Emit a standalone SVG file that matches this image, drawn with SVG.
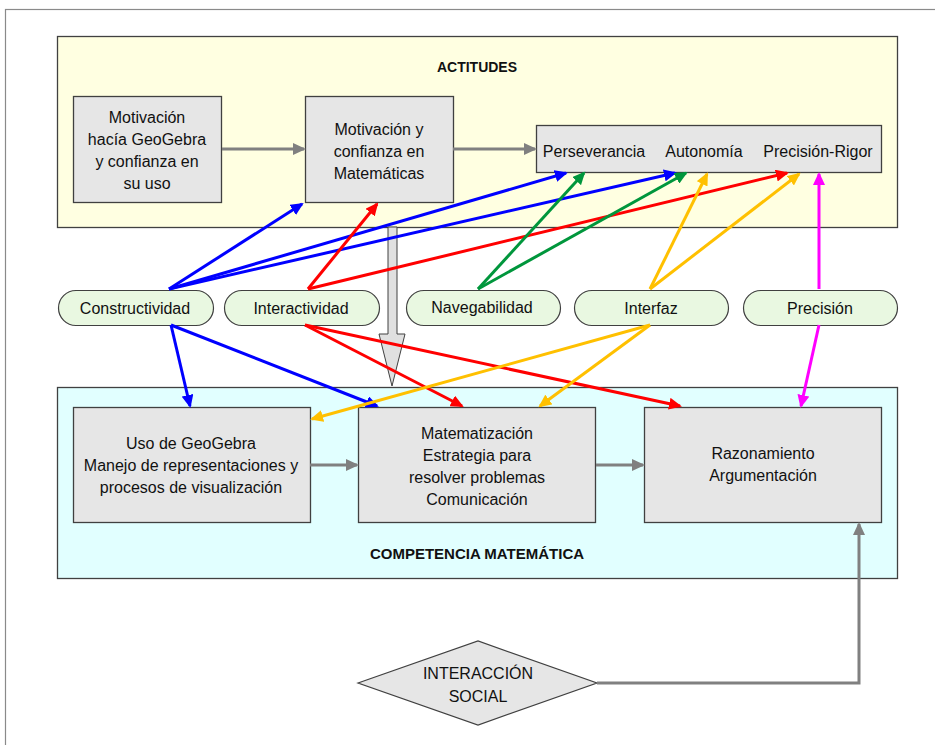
<svg xmlns="http://www.w3.org/2000/svg" width="935" height="745" viewBox="0 0 935 745">
<style>
text{font-family:"Liberation Sans",Arial,sans-serif;font-size:16px;fill:#111;text-anchor:middle;dominant-baseline:central}
.h{font-weight:bold;font-size:14px}
.h2{font-weight:bold;font-size:15px}
.box{fill:#e6e6e6;stroke:#404040;stroke-width:1.3}
.pill{fill:#e9f8e1;stroke:#404040;stroke-width:1.2}
.c{fill:none;stroke-width:3}
.b{stroke:#0000ff}.r{stroke:#ff0000}.g{stroke:#00963c}.y{stroke:#ffc000}.m{stroke:#ff00ff}.k{stroke:#808080}
</style>
<defs>
<marker id="mb" markerUnits="userSpaceOnUse" markerWidth="14" markerHeight="12" refX="11" refY="6" orient="auto"><path d="M0,0 L13,6 L0,12 Z" fill="#0000ff"/></marker>
<marker id="mr" markerUnits="userSpaceOnUse" markerWidth="14" markerHeight="12" refX="11" refY="6" orient="auto"><path d="M0,0 L13,6 L0,12 Z" fill="#ff0000"/></marker>
<marker id="mg" markerUnits="userSpaceOnUse" markerWidth="14" markerHeight="12" refX="11" refY="6" orient="auto"><path d="M0,0 L13,6 L0,12 Z" fill="#00963c"/></marker>
<marker id="my" markerUnits="userSpaceOnUse" markerWidth="14" markerHeight="12" refX="11" refY="6" orient="auto"><path d="M0,0 L13,6 L0,12 Z" fill="#ffc000"/></marker>
<marker id="mm" markerUnits="userSpaceOnUse" markerWidth="14" markerHeight="12" refX="11" refY="6" orient="auto"><path d="M0,0 L13,6 L0,12 Z" fill="#ff00ff"/></marker>
<marker id="mk" markerUnits="userSpaceOnUse" markerWidth="14" markerHeight="12" refX="11" refY="6" orient="auto"><path d="M0,0 L13,6 L0,12 Z" fill="#808080"/></marker>
</defs>
<rect x="0" y="0" width="935" height="745" fill="#fff"/>
<rect x="5.5" y="9.5" width="960" height="800" fill="#fff" stroke="#8a8a8a" stroke-width="1.2"/>

<g id="actitudes">
<rect x="57.5" y="36.5" width="840" height="191" fill="#ffffe1" stroke="#404040" stroke-width="1.3"/>
<text class="h" x="477" y="67">ACTITUDES</text>
</g>
<g id="competencia">
<rect x="57.5" y="387.5" width="840" height="191" fill="#e1ffff" stroke="#404040" stroke-width="1.3"/>
<text class="h2" x="477" y="553">COMPETENCIA MATEMÁTICA</text>
</g>

<g id="motivacion-geogebra">
<rect class="box" x="73.5" y="96.5" width="148" height="106"/>
<text x="147" y="117">Motivación</text>
<text x="147" y="139">hacía GeoGebra</text>
<text x="147" y="161">y confianza en</text>
<text x="147" y="183">su uso</text>
</g>
<g id="motivacion-matematicas">
<rect class="box" x="305.5" y="96.5" width="148" height="106"/>
<text x="379" y="129">Motivación y</text>
<text x="379" y="151">confianza en</text>
<text x="379" y="173">Matemáticas</text>
</g>
<g id="actitudes-lista">
<rect class="box" x="536.5" y="125.5" width="345" height="47"/>
<text x="594" y="151">Perseverancia</text>
<text x="704" y="151">Autonomía</text>
<text x="818" y="151">Precisión-Rigor</text>
</g>

<g id="flecha-hueca">
<polygon points="388,227 397,227 397,334 405,334 392,386 379,334 388,334" fill="#e0e0e0" stroke="#404040" stroke-width="1"/>
</g>

<g id="constructividad"><rect class="pill" x="58.5" y="290.5" width="155" height="35" rx="17.5"/><text x="135" y="308">Constructividad</text></g>
<g id="interactividad"><rect class="pill" x="224.5" y="290.5" width="155" height="35" rx="17.5"/><text x="301" y="308">Interactividad</text></g>
<g id="navegabilidad"><rect class="pill" x="406.5" y="290.5" width="154" height="35" rx="17.5"/><text x="482" y="307">Navegabilidad</text></g>
<g id="interfaz"><rect class="pill" x="574.5" y="290.5" width="154" height="35" rx="17.5"/><text x="651" y="308">Interfaz</text></g>
<g id="precision"><rect class="pill" x="743.5" y="290.5" width="154" height="35" rx="17.5"/><text x="820" y="308">Precisión</text></g>

<g id="uso-geogebra">
<rect class="box" x="73.5" y="407.5" width="237" height="115"/>
<text x="191" y="443">Uso de GeoGebra</text>
<text x="191" y="465">Manejo de representaciones y</text>
<text x="191" y="487">procesos de visualización</text>
</g>
<g id="matematizacion">
<rect class="box" x="358.5" y="407.5" width="237" height="115"/>
<text x="477" y="433">Matematización</text>
<text x="477" y="455">Estrategia para</text>
<text x="477" y="477">resolver problemas</text>
<text x="477" y="499">Comunicación</text>
</g>
<g id="razonamiento">
<rect class="box" x="644.5" y="407.5" width="237" height="115"/>
<text x="763" y="453">Razonamiento</text>
<text x="763" y="475">Argumentación</text>
</g>

<g id="interaccion-social">
<polygon points="358,683 478,641 597,683 478,725" fill="#e6e6e6" stroke="#404040" stroke-width="1.2"/>
<text x="478" y="673">INTERACCIÓN</text>
<text x="478" y="696">SOCIAL</text>
</g>

<g id="conectores">
<path class="c k" d="M222,149 L304,149" marker-end="url(#mk)"/>
<path class="c k" d="M453,149 L535,149" marker-end="url(#mk)"/>
<path class="c k" d="M310,465 L357,465" marker-end="url(#mk)"/>
<path class="c k" d="M596,465 L643,465" marker-end="url(#mk)"/>
<path class="c k" d="M597,683 L859,683 L859,524" marker-end="url(#mk)"/>

<path class="c b" d="M169,289 L302,204" marker-end="url(#mb)"/>
<path class="c b" d="M169,289 L566,173" marker-end="url(#mb)"/>
<path class="c b" d="M169,289 L675,173" marker-end="url(#mb)"/>
<path class="c b" d="M171,325 L190,406" marker-end="url(#mb)"/>
<path class="c b" d="M171,325 L377,406" marker-end="url(#mb)"/>

<path class="c r" d="M308,289 L377,204" marker-end="url(#mr)"/>
<path class="c r" d="M308,289 L787,173" marker-end="url(#mr)"/>
<path class="c r" d="M305,325 L462,406" marker-end="url(#mr)"/>
<path class="c r" d="M305,325 L680,406" marker-end="url(#mr)"/>

<path class="c g" d="M478,289 L584,173" marker-end="url(#mg)"/>
<path class="c g" d="M478,289 L686,173" marker-end="url(#mg)"/>

<path class="c y" d="M650,289 L707,174" marker-end="url(#my)"/>
<path class="c y" d="M650,289 L799,174" marker-end="url(#my)"/>
<path class="c y" d="M650,325 L312,419" marker-end="url(#my)"/>
<path class="c y" d="M650,325 L540,406" marker-end="url(#my)"/>

<path class="c m" d="M819,289 L819,174" marker-end="url(#mm)"/>
<path class="c m" d="M819,325 L801,406" marker-end="url(#mm)"/>
</g>
</svg>
